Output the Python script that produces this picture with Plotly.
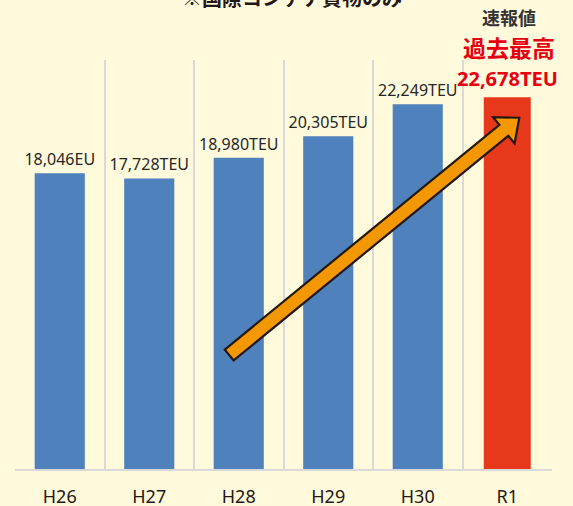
import numpy as np
import plotly.graph_objects as go

categories = ["H26", "H27", "H28", "H29", "H30", "R1"]
values = [18046, 17728, 18980, 20305, 22249, 22678]
value_labels = ["18,046EU", "17,728TEU", "18,980TEU", "20,305TEU", "22,249TEU", ""]
record_label = "<b>22,678TEU</b>"
bar_colors = ["#4F81BD"] * 5 + ["#E8381B"]
bar_widths = [0.56] * 5 + [0.525]

W, H = 573, 506
ML, MR, MT, MB = 15, 21, 60, 37
PW, PH = W - ML - MR, H - MT - MB

fig = go.Figure()
fig.add_trace(go.Bar(
    x=categories, y=values, width=bar_widths,
    marker=dict(color=bar_colors, line=dict(width=0)),
    text=value_labels, textposition="outside",
    textfont=dict(color="#262626", size=16, family="Noto Sans"),
    cliponaxis=False, hoverinfo="skip",
))

# record label for the last bar, anchored on its value
fig.add_annotation(x=categories[-1], y=values[-1], text=record_label, showarrow=False,
                   xanchor="center", yanchor="bottom", yshift=3,
                   font=dict(size=20, color="#E60012", family="Noto Sans"))

# block arrow (decoration) built in pixel space, converted to paper coords
tail = np.array([229.2, 355.0])
tip = np.array([519.3, 117.7])
u = (tip - tail) / np.linalg.norm(tip - tail)
n = np.array([-u[1], u[0]])
w_shaft, w_head, l_head = 7.0, 17.0, 20.0
base = tip - u * l_head
pts = [tail + n * w_shaft, base + n * w_shaft, base + n * w_head, tip,
       base - n * w_head, base - n * w_shaft, tail - n * w_shaft]
def to_paper(p):
    return ((p[0] - ML) / PW, (MT + PH - p[1]) / PH)
pp = [to_paper(p) for p in pts]
path = "M " + " L ".join(f"{x:.5f},{y:.5f}" for x, y in pp) + " Z"
fig.add_shape(type="path", path=path, xref="paper", yref="paper",
              fillcolor="#F39800", line=dict(color="#231815", width=2.2), layer="above")

def py(p):
    return (MT + PH - p) / PH

fig.add_annotation(text="<b>※国際コンテナ貨物のみ</b>", x=(292 - ML) / PW, y=py(-3),
                   xref="paper", yref="paper", showarrow=False, xanchor="center", yanchor="middle",
                   font=dict(size=20, color="#231815", family="Noto Sans CJK JP"))
fig.add_annotation(text="<b>速報値</b>", x=(509 - ML) / PW, y=py(17),
                   xref="paper", yref="paper", showarrow=False, xanchor="center", yanchor="middle",
                   font=dict(size=18, color="#333333", family="Noto Sans CJK JP"))
fig.add_annotation(text="<b>過去最高</b>", x=(509 - ML) / PW, y=py(47),
                   xref="paper", yref="paper", showarrow=False, xanchor="center", yanchor="middle",
                   font=dict(size=23, color="#E60012", family="Noto Sans CJK JP"))

fig.update_layout(
    width=W, height=H,
    margin=dict(l=ML, r=MR, t=MT, b=MB, autoexpand=False),
    paper_bgcolor="#FFFADC", plot_bgcolor="#FFFADC",
    showlegend=False, bargap=0.44,
    font=dict(family="Noto Sans", color="#231815"),
)
fig.update_traces(constraintext="none")
fig.update_xaxes(
    type="category", range=[-0.5, 5.5], tickson="boundaries", automargin=False,
    showgrid=True, gridcolor="#D9D9D9", gridwidth=1.5,
    showline=True, linecolor="#D9D9D9", linewidth=1.5,
    ticks="", tickfont=dict(size=18, color="#231815", family="Noto Sans"),
    ticklabelstandoff=11, fixedrange=True,
)
fig.update_yaxes(range=[0, 24950], visible=False, showgrid=False, zeroline=False,
                 automargin=False, fixedrange=True)

fig.write_html("out.html", config={"displayModeBar": False},
               post_script="document.body.style.margin='0';document.body.style.background='#FFFADC';document.documentElement.style.overflow='hidden';")
